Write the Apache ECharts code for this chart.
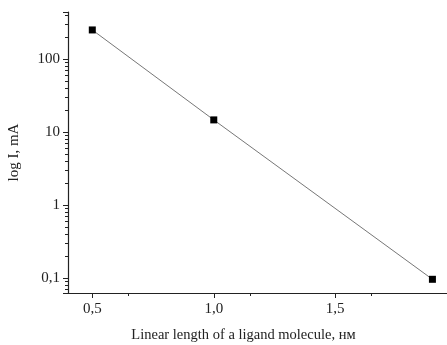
<!DOCTYPE html>
<html>
<head>
<meta charset="utf-8">
<script src="https://cdn.jsdelivr.net/npm/echarts@6/dist/echarts.min.js"></script>
<style>
  html, body { margin: 0; padding: 0; background: #fff; }
  #chart { width: 447px; height: 345px; }
</style>
</head>
<body>
<div id="chart"></div>
<script>
// ligand length (nm) vs current (mA)
const lengths = [0.5, 1.0, 1.9];
const currents = [250, 14.7, 0.097];
const xTicks = [0.5, 1.0, 1.5];

const font = "'Liberation Serif', 'DejaVu Serif', serif";

const chart = echarts.init(document.getElementById("chart"));

chart.setOption({
  backgroundColor: "#fff",
  animation: false,
  grid: { left: 68, right: 0, top: 12, bottom: 52, outerBoundsMode: "none" },
  xAxis: {
    type: "value",
    min: 0.4,
    max: 1.96,
    interval: 0.5,
    name: "Linear length of a ligand molecule, нм",
    nameLocation: "middle",
    nameGap: 35,
    nameTextStyle: { color: "#222", fontFamily: font, fontSize: 14.5, padding: [0, 28, 0, 0] },
    axisLine: { show: true, onZero: false, lineStyle: { color: "#222", width: 1.2 } },
    axisTick: { show: true, length: 5, lineStyle: { color: "#222" }, customValues: xTicks },
    minorTick: { show: true, splitNumber: 2, length: 3, lineStyle: { color: "#222" } },
    axisLabel: {
      color: "#222", fontFamily: font, fontSize: 15, margin: 9,
      customValues: xTicks,
      formatter: (v) => v.toFixed(1).replace(".", ",")
    },
    splitLine: { show: false }
  },
  yAxis: {
    type: "log",
    logBase: 10,
    min: 0.063,
    max: 440,
    name: "log I, mA",
    nameLocation: "middle",
    nameGap: 46,
    nameTextStyle: { color: "#222", fontFamily: font, fontSize: 15 },
    axisLine: { show: true, lineStyle: { color: "#222", width: 1.2 } },
    axisTick: { show: true, length: 5, lineStyle: { color: "#222" } },
    minorTick: { show: true, splitNumber: 9, length: 3, lineStyle: { color: "#222" } },
    axisLabel: {
      color: "#222", fontFamily: font, fontSize: 15, margin: 8,
      showMinLabel: false, showMaxLabel: false,
      formatter: (v) => String(v).replace(".", ",")
    },
    splitLine: { show: false }
  },
  series: [{
    type: "line",
    data: lengths.map((x, i) => [x, currents[i]]),
    symbol: "rect",
    symbolSize: 7,
    lineStyle: { color: "#777", width: 1 },
    itemStyle: { color: "#000" }
  }]
});
</script>
</body>
</html>
